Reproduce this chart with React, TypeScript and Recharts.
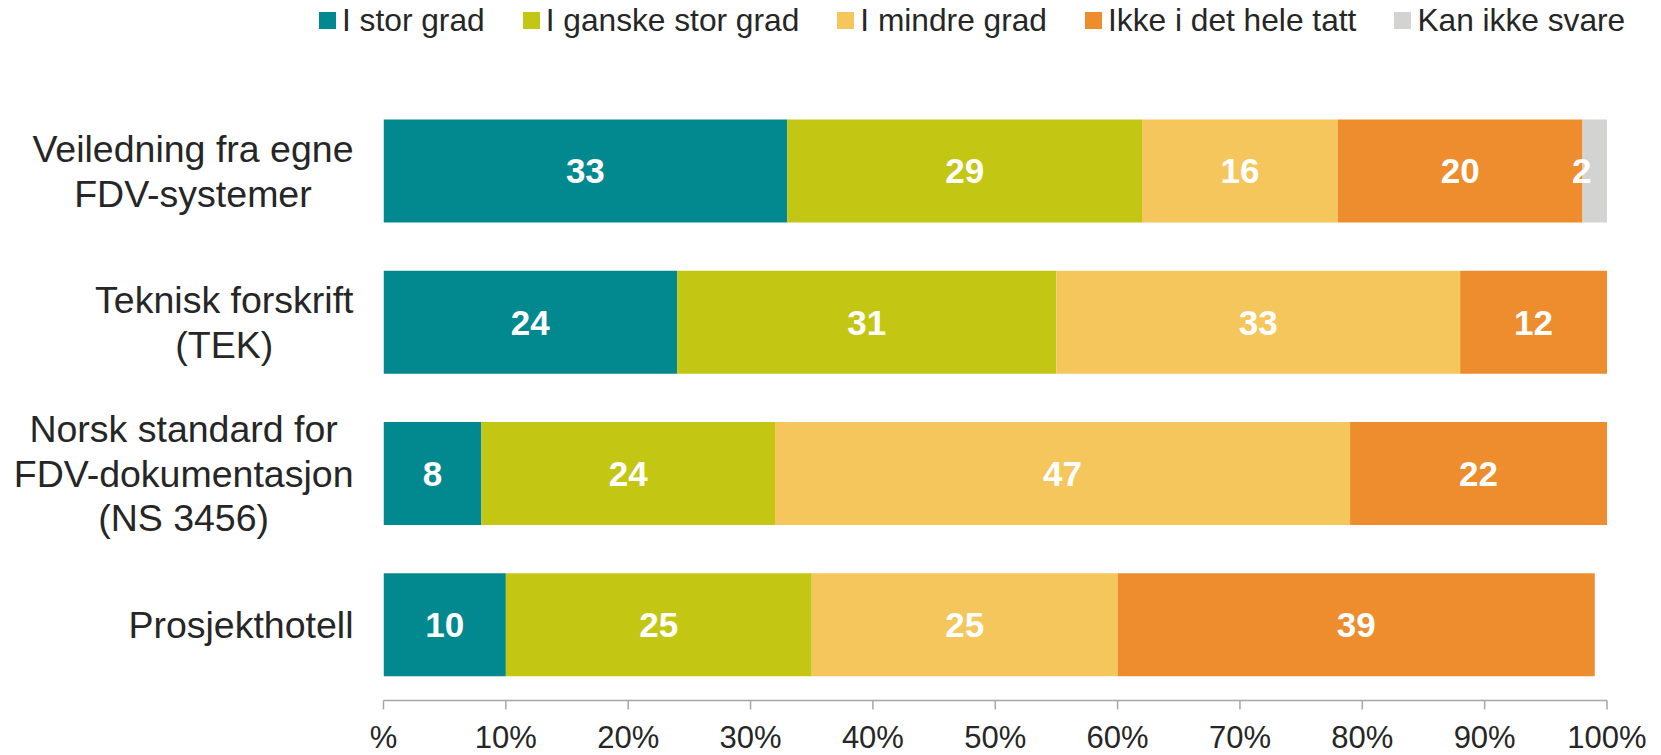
import { BarChart, Bar, XAxis, YAxis, Legend, LabelList } from "recharts"

const categories = [
  "Veiledning fra egne\nFDV-systemer",
  "Teknisk forskrift\n(TEK)",
  "Norsk standard for\nFDV-dokumentasjon\n(NS 3456)",
  "Prosjekthotell",
]
const storGrad = [33, 24, 8, 10]
const ganskeStorGrad = [29, 31, 24, 25]
const mindreGrad = [16, 33, 47, 25]
const ikkeIDetHele = [20, 12, 22, 39]
const kanIkkeSvare = [2, 0, 0, 0]

const xTicks = [0, 10, 20, 30, 40, 50, 60, 70, 80, 90, 100]

const series = [
  { key: "stor", name: "I stor grad", color: "#02888f", values: storGrad },
  { key: "ganske", name: "I ganske stor grad", color: "#c3c713", values: ganskeStorGrad },
  { key: "mindre", name: "I mindre grad", color: "#f4c65b", values: mindreGrad },
  { key: "ikke", name: "Ikke i det hele tatt", color: "#ed8d2d", values: ikkeIDetHele },
  { key: "kan", name: "Kan ikke svare", color: "#d3d4d2", values: kanIkkeSvare },
]

const data = categories.map((name, i) => {
  const row: Record<string, string | number> = { name }
  series.forEach((s) => {
    row[s.key] = s.values[i]
  })
  return row
})

const font = '"Liberation Sans", Arial, sans-serif'
const textColor = "#262626"
const axisGray = "#a6a6a6"

let measureCtx: CanvasRenderingContext2D | null = null
function textWidth(text: string, size: number) {
  if (!measureCtx) measureCtx = document.createElement("canvas").getContext("2d")
  if (!measureCtx) return text.length * size * 0.5
  measureCtx.font = `${size}px ${font}`
  return measureCtx.measureText(text).width
}

// multi-line category label: block right-aligned, lines centred inside it
function CategoryTick(props: any) {
  const { x, y, payload } = props
  const lines = String(payload.value).split("\n")
  const size = 37.5
  const lineHeight = 44.5
  const right = x - 22
  const blockW = Math.max(...lines.map((l) => textWidth(l, size)))
  const cx = right - blockW / 2
  const startY = y - ((lines.length - 1) * lineHeight) / 2
  return (
    <text x={cx} y={startY} textAnchor="middle" fill={textColor} fontSize={size} fontFamily={font}>
      {lines.map((l, i) => (
        <tspan key={i} x={cx} y={startY + i * lineHeight} dy="0.35em">
          {l}
        </tspan>
      ))}
    </text>
  )
}

function LegendContent() {
  return (
    <div style={{ display: "flex", alignItems: "center", height: 40, paddingLeft: 319, fontFamily: font }}>
      {series.map((s) => (
        <div key={s.key} style={{ display: "flex", alignItems: "center", marginRight: 38 }}>
          <span style={{ width: 17, height: 17, background: s.color, marginRight: 6, display: "inline-block" }} />
          <span style={{ fontSize: 31.7, color: textColor, whiteSpace: "nowrap" }}>{s.name}</span>
        </div>
      ))}
    </div>
  )
}

export default function App() {
  return (
    <div style={{ position: "absolute", left: 0, top: 0, background: "#fff" }}>
      <BarChart
        width={1661}
        height={755}
        data={data}
        layout="vertical"
        barSize={103}
        margin={{ top: 55.5, right: 54, left: 0, bottom: 0 }}
      >
        <Legend
          verticalAlign="top"
          content={<LegendContent />}
          wrapperStyle={{ left: 0, top: 0, width: 1661, height: 40 }}
        />
        <XAxis
          type="number"
          domain={[0, 100]}
          allowDataOverflow
          ticks={xTicks}
          tickFormatter={(v) => (v === 0 ? "%" : `${v}%`)}
          height={54.5}
          tickSize={9}
          tickMargin={16}
          axisLine={{ stroke: axisGray, strokeWidth: 1.5 }}
          tickLine={{ stroke: axisGray, strokeWidth: 1.5 }}
          tick={{ fill: textColor, fontSize: 31, fontFamily: font }}
        />
        <YAxis
          type="category"
          dataKey="name"
          width={383.5}
          axisLine={false}
          tickLine={false}
          tick={<CategoryTick />}
        />
        {series.map((s) => (
          <Bar key={s.key} dataKey={s.key} name={s.name} stackId="a" fill={s.color} isAnimationActive={false}>
            <LabelList
              dataKey={s.key}
              position="center"
              fill="#ffffff"
              fontSize={35}
              fontWeight="bold"
              fontFamily={font}
              dx={s.key === "kan" ? -13 : 0}
              formatter={(v: any) => (v ? v : "")}
            />
          </Bar>
        ))}
      </BarChart>
    </div>
  )
}
